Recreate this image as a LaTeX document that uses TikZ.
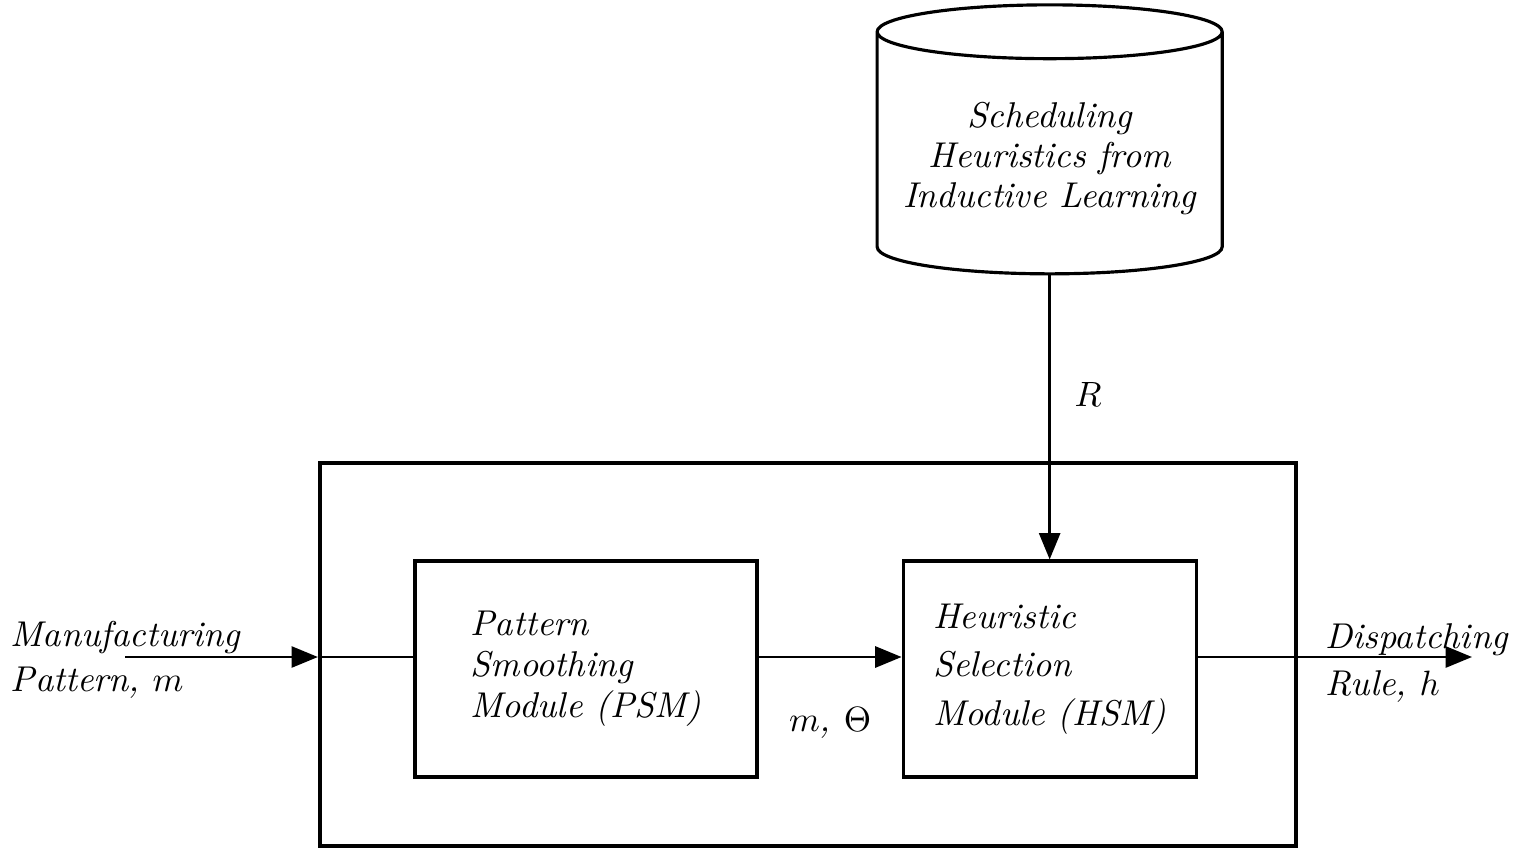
\documentclass[tikz,border=0pt]{standalone}
\usepackage{tikz}
\usetikzlibrary{arrows.meta, positioning, shapes.geometric}

\begin{document}
\begin{tikzpicture}[
    txt/.style={font=\itshape\fontsize{10.2}{#1}\selectfont},
    txt/.default=12,
    modbox/.style={draw, line width=0.9pt, minimum width=3.42cm, minimum height=2.16cm, align=left},
    flow/.style={line width=0.7pt, -{Triangle[length=7.5pt,width=6pt]}},
  ]
  \useasboundingbox (0,0) rectangle (15.29,-8.48);

  % outer frame and the two modules
  \node [draw, line width=1.2pt, minimum width=9.76cm, minimum height=3.83cm] (sys) at (8.08,-6.545) {};
  \node [modbox, txt=11.7] (n1) at (5.86,-6.69) {Pattern\\Smoothing\\Module (PSM)};
  \node [modbox, txt=13.8, minimum width=2.93cm, right=1.43cm of n1] (n2) {Heuristic\\Selection\\Module (HSM)};

  % rule base
  \node [cylinder, draw, line width=0.9pt, shape border rotate=90, aspect=0.17,
         minimum width=3.45cm, minimum height=2.69cm, txt=11.4, align=center,
         above=2.84cm of n2] (db) {Scheduling\\Heuristics from\\Inductive Learning};

  \coordinate (i1) at (1.25,-6.57);
  \coordinate (f1) at (14.72,-6.57);

  \node [txt=12.8, align=left, anchor=west, inner xsep=0pt] (t1) at (0.1,-6.6) {Manufacturing\\Pattern, $m$};
  \node [txt=13.2, align=left, anchor=west, inner xsep=0pt] (t2) at (13.25,-6.63) {Dispatching\\Rule, $h$};

  \draw [flow] (i1) -- (i1 -| sys.west);
  \draw [line width=0.7pt] (i1 -| sys.west) -- (i1 -| n1.west);
  \draw [flow] (i1 -| n1.east) -- (i1 -| n2.west)
    node [midway, below=0.38cm, txt] (l1) {$m$, $\Theta$};
  \draw [flow] (i1 -| n2.east) -- (f1);
  \draw [flow] (db.south) -- (n2.north)
    node [pos=0.42, right=0.12cm, txt] (l2) {$R$};
\end{tikzpicture}
\end{document}
